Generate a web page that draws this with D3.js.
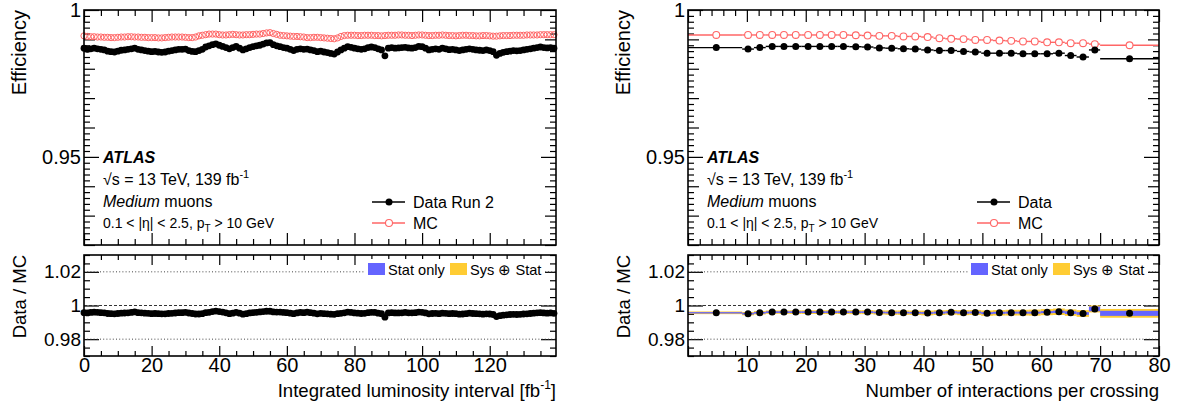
<!DOCTYPE html>
<html><head><meta charset="utf-8">
<script src="https://cdn.jsdelivr.net/npm/d3@7"></script>
<style>body{margin:0;background:#fff} svg{display:block} text{font-family:"Liberation Sans",Arial,Helvetica,sans-serif;fill:#000}</style>
</head><body><svg id="c" width="1179" height="410"></svg>
<script>
// ---------------- DATA ----------------
// Left: efficiency vs integrated luminosity interval (one point per ~1 fb^-1)
const lumiX = [0,1,2,3,4,5,6,7,8,9,10,11,12,13,14,15,16,17,18,19,20,21,22,23,24,25,26,27,28,29,30,31,32,33,34,35,36,37,38,39,40,41,42,43,44,45,46,47,48,49,50,51,52,53,54,55,56,57,58,59,60,61,62,63,64,65,66,67,68,69,70,71,72,73,74,75,76,77,78,79,80,81,82,83,84,85,86,87,88,89,90,91,92,93,94,95,96,97,98,99,100,101,102,103,104,105,106,107,108,109,110,111,112,113,114,115,116,117,118,119,120,121,122,123,124,125,126,127,128,129,130,131,132,133,134,135,136,137,138,139];
const lumiData = [
0.9870,0.9866,0.9868,0.9870,0.9868,0.9866,0.9864,0.9860,0.9858,0.9857,
0.9860,0.9863,0.9864,0.9866,0.9868,0.9870,0.9866,0.9864,0.9862,0.9860,
0.9858,0.9859,0.9857,0.9856,0.9857,0.9860,0.9862,0.9864,0.9866,0.9866,
0.9867,0.9862,0.9859,0.9858,0.9862,0.9866,0.9874,0.9878,0.9882,0.9885,
0.9880,0.9876,0.9872,0.9868,0.9872,0.9876,0.9870,0.9864,0.9868,0.9872,
0.9875,0.9878,0.9880,0.9884,0.9888,0.9889,0.9882,0.9878,0.9875,0.9872,
0.9870,0.9866,0.9862,0.9866,0.9868,0.9866,0.9867,0.9864,0.9862,0.9858,
0.9860,0.9857,0.9855,0.9852,0.9850,0.9857,0.9864,0.9870,0.9875,0.9873,
0.9870,0.9868,0.9866,0.9868,0.9872,0.9874,0.9872,0.9868,0.9864,0.9844,
0.9870,0.9872,0.9870,0.9871,0.9872,0.9873,0.9871,0.9870,0.9872,0.9876,
0.9875,0.9870,0.9864,0.9866,0.9868,0.9866,0.9870,0.9868,0.9865,0.9866,
0.9864,0.9862,0.9864,0.9866,0.9868,0.9866,0.9864,0.9863,0.9862,0.9864,
0.9862,0.9858,0.9846,0.9852,0.9856,0.9858,0.9860,0.9862,0.9861,0.9862,
0.9864,0.9866,0.9868,0.9870,0.9872,0.9874,0.9872,0.9871,0.9872,0.9870];
const lumiMC = [
0.9912,0.9910,0.9909,0.9909,0.9908,0.9908,0.9907,0.9907,0.9906,0.9906,
0.9907,0.9908,0.9908,0.9909,0.9909,0.9908,0.9908,0.9907,0.9907,0.9906,
0.9906,0.9906,0.9905,0.9905,0.9906,0.9907,0.9908,0.9908,0.9908,0.9908,
0.9907,0.9906,0.9906,0.9908,0.9912,0.9914,0.9916,0.9918,0.9918,0.9918,
0.9916,0.9915,0.9915,0.9916,0.9917,0.9916,0.9915,0.9915,0.9916,0.9916,
0.9917,0.9918,0.9918,0.9920,0.9922,0.9923,0.9920,0.9917,0.9914,0.9913,
0.9912,0.9911,0.9910,0.9910,0.9909,0.9908,0.9906,0.9906,0.9907,0.9907,
0.9906,0.9905,0.9904,0.9903,0.9902,0.9905,0.9910,0.9913,0.9914,0.9914,
0.9914,0.9913,0.9913,0.9914,0.9914,0.9914,0.9913,0.9913,0.9912,0.9913,
0.9914,0.9914,0.9914,0.9915,0.9915,0.9914,0.9914,0.9913,0.9914,0.9915,
0.9915,0.9914,0.9913,0.9913,0.9914,0.9914,0.9915,0.9914,0.9913,0.9913,
0.9912,0.9913,0.9914,0.9914,0.9913,0.9913,0.9912,0.9912,0.9913,0.9913,
0.9912,0.9911,0.9911,0.9912,0.9913,0.9913,0.9913,0.9914,0.9914,0.9914,
0.9914,0.9915,0.9915,0.9915,0.9915,0.9916,0.9916,0.9916,0.9916,0.9916];

// Right: efficiency vs number of interactions per crossing
const muX  = [4.8,10.2,12.2,14.3,16.3,18.3,20.4,22.4,24.4,26.4,28.5,30.5,32.5,34.6,36.6,38.6,40.7,42.7,44.7,46.8,48.8,50.8,52.9,54.9,56.9,58.9,61.0,63.0,65.0,67.1,69.1,75.0];
const muLo = [0,9.2,11.2,13.2,15.3,17.3,19.3,21.4,23.4,25.4,27.4,29.5,31.5,33.5,35.6,37.6,39.6,41.7,43.7,45.7,47.8,49.8,51.8,53.9,55.9,57.9,59.9,62.0,64.0,66.0,68.1,70.0];
const muHi = [9.2,11.2,13.2,15.3,17.3,19.3,21.4,23.4,25.4,27.4,29.5,31.5,33.5,35.6,37.6,39.6,41.7,43.7,45.7,47.8,49.8,51.8,53.9,55.9,57.9,59.9,62.0,64.0,66.0,68.1,70.0,80.0];
const muData = [0.9872,0.9867,0.9872,0.9876,0.9876,0.9876,0.9876,0.9876,0.9876,0.9876,0.9875,0.9874,0.9871,0.9870,0.9868,0.9867,0.9864,0.9862,0.9862,0.9859,0.9857,0.9853,0.9853,0.9853,0.9851,0.9851,0.9851,0.9853,0.9845,0.9840,0.9864,0.9834];
const muMC   = [0.9915,0.9915,0.9915,0.9915,0.9915,0.9915,0.9915,0.9915,0.9915,0.9915,0.9914,0.9913,0.9912,0.9912,0.9910,0.9910,0.9908,0.9904,0.9902,0.9901,0.9898,0.9898,0.9896,0.9895,0.9893,0.9893,0.9890,0.9890,0.9887,0.9887,0.9884,0.9880];
const muStatErr = [0.0004,0.0005,0.0005,0.0005,0.0005,0.0005,0.0005,0.0005,0.0005,0.0005,0.0005,0.0005,0.0005,0.0005,0.0005,0.0005,0.0005,0.0006,0.0006,0.0006,0.0006,0.0006,0.0006,0.0006,0.0006,0.0006,0.0006,0.0007,0.0008,0.0008,0.0014,0.0015];
const muSysErr  = [0.0008,0.0010,0.0010,0.0010,0.0010,0.0011,0.0011,0.0011,0.0011,0.0011,0.0012,0.0012,0.0012,0.0013,0.0013,0.0013,0.0014,0.0014,0.0014,0.0015,0.0015,0.0016,0.0016,0.0017,0.0017,0.0018,0.0018,0.0019,0.0019,0.0020,0.0021,0.0026];
const lumiStatErr = 0.0003, lumiSysErr = 0.0006;

// Tick labels
const effTickLabels = [0.95, 1];
const ratioTickLabels = [0.98, 1, 1.02];
const lumiTickLabels = [0,20,40,60,80,100,120];
const muTickLabels = [10,20,30,40,50,60,70,80];

// ---------------- DRAWING ----------------
(function(){
const svg = d3.select('#c');
const FONT = '"Liberation Sans",Arial,Helvetica,sans-serif';
const BLUE = '#6464ff', YELLOW = '#ffcc33', RED = '#ff6666';

const topF = {y0:10, y1:245}, ratF = {y0:255, y1:356};
const panels = [
  {x0:84, x1:556, dom:[0,139.6], major:lumiTickLabels, minorStep:5, labelsShown:lumiTickLabels},
  {x0:688, x1:1159, dom:[0,80], major:[0,10,20,30,40,50,60,70,80], minorStep:2, labelsShown:muTickLabels}
];
const yTop = d3.scaleLinear([0.92,1.0],[topF.y1, topF.y0]);
const yRat = d3.scaleLinear([0.97,1.03],[ratF.y1, ratF.y0]);

function rng(a,b,s){const r=[];for(let v=a;v<=b+1e-9;v+=s)r.push(+v.toFixed(6));return r;}

function drawTicks(g, axisGen, scale, values, size, fmt, pad, fs){
  const a = g.append('g').call(axisGen(scale).tickValues(values).tickSizeInner(size).tickSizeOuter(0).tickPadding(pad||3).tickFormat(fmt||(()=> '')));
  a.select('.domain').remove();
  a.selectAll('line').attr('stroke','#000').attr('stroke-width',1.2);
  a.selectAll('text').attr('font-family',FONT).attr('font-size',fs||20).attr('fill','#000');
  return a;
}

panels.forEach((p,pi)=>{
  const x = d3.scaleLinear(p.dom,[p.x0,p.x1]);
  p.x = x;
  const minors = rng(p.dom[0], p.dom[1], p.minorStep).filter(v=>!p.major.includes(v));
  [[topF, yTop, rng(0.92,1.0,0.002), rng(0.92,1.0,0.01), effTickLabels],
   [ratF, yRat, rng(0.97,1.03,0.005), ratioTickLabels, ratioTickLabels]].forEach(([fr, y, yMin, yMaj, yLab], k)=>{
    const gl = svg.append('g').attr('transform',`translate(${p.x0},0)`);
    const gr = svg.append('g').attr('transform',`translate(${p.x1},0)`);
    const gt = svg.append('g').attr('transform',`translate(0,${fr.y0})`);
    const gb = svg.append('g').attr('transform',`translate(0,${fr.y1})`);
    const yMinOnly = yMin.filter(v=>!yMaj.some(m=>Math.abs(m-v)<1e-6));
    drawTicks(gl, d3.axisLeft, y, yMinOnly, -6);
    drawTicks(gr, d3.axisRight, y, yMinOnly, -6);
    const majLen = k===0 ? 11 : 12;
    const yMajNoLab = yMaj.filter(v=>!yLab.some(m=>Math.abs(m-v)<1e-6));
    drawTicks(gl, d3.axisLeft, y, yMajNoLab, -majLen);
    drawTicks(gr, d3.axisRight, y, yMajNoLab, -majLen);
    drawTicks(gl, d3.axisLeft, y, yLab, -15, d=>d3.format('')(d), 3, k===0?20:19);
    drawTicks(gr, d3.axisRight, y, yLab, -15);
    drawTicks(gt, d3.axisTop, x, minors, -(k===0?6:5));
    drawTicks(gb, d3.axisBottom, x, minors, -(k===0?6:5));
    drawTicks(gt, d3.axisTop, x, p.major, -(k===0?12:10));
    drawTicks(gb, d3.axisBottom, x, p.major, -(k===0?12:10), k===1 ? (d=>p.labelsShown.includes(d)?String(d):'') : ()=>'', 2, 20);
  });

  const gGrid = svg.append('g');
  [[1.02,'1,2.2','#444'],[0.98,'1,2.2','#444'],[1.0,'3,2','#333']].forEach(([v,da,c])=>{
    gGrid.append('line').attr('x1',p.x0).attr('x2',p.x1).attr('y1',yRat(v)).attr('y2',yRat(v))
      .attr('stroke',c).attr('stroke-width',1).attr('stroke-dasharray',da);
  });
});

// ---------------- LEFT: luminosity ----------------
(function(){
  const p = panels[0], x = p.x;
  const g = svg.append('g');
  const ratio = lumiData.map((d,i)=>d/lumiMC[i]);
  g.selectAll('rect.sys').data(lumiX).join('rect').attr('class','sys')
    .attr('x',(d,i)=>x(d)-1.7).attr('width',3.4)
    .attr('y',(d,i)=>yRat(ratio[i]+lumiSysErr)).attr('height',(d,i)=>yRat(ratio[i]-lumiSysErr)-yRat(ratio[i]+lumiSysErr))
    .attr('fill',YELLOW);
  g.selectAll('rect.stat').data(lumiX).join('rect').attr('class','stat')
    .attr('x',(d,i)=>x(d)-1.7).attr('width',3.4)
    .attr('y',(d,i)=>yRat(ratio[i]+lumiStatErr)).attr('height',(d,i)=>yRat(ratio[i]-lumiStatErr)-yRat(ratio[i]+lumiStatErr))
    .attr('fill',BLUE);
  g.selectAll('circle.mc').data(lumiX).join('circle').attr('class','mc')
    .attr('cx',d=>x(d)).attr('cy',(d,i)=>yTop(lumiMC[i])).attr('r',3.1)
    .attr('fill','none').attr('stroke',RED).attr('stroke-width',1);
  g.selectAll('circle.dt').data(lumiX).join('circle').attr('class','dt')
    .attr('cx',d=>x(d)).attr('cy',(d,i)=>yTop(lumiData[i])).attr('r',3.4).attr('fill','#000');
  g.selectAll('circle.rt').data(lumiX).join('circle').attr('class','rt')
    .attr('cx',d=>x(d)).attr('cy',(d,i)=>yRat(ratio[i])).attr('r',3.4).attr('fill','#000');
})();

// ---------------- RIGHT: mu ----------------
(function(){
  const p = panels[1], x = p.x;
  const g = svg.append('g');
  const ratio = muData.map((d,i)=>d/muMC[i]);
  g.selectAll('rect.sys').data(muX).join('rect').attr('class','sys')
    .attr('x',(d,i)=>x(muLo[i])).attr('width',(d,i)=>x(muHi[i])-x(muLo[i]))
    .attr('y',(d,i)=>yRat(ratio[i]+muSysErr[i])).attr('height',(d,i)=>yRat(ratio[i]-muSysErr[i])-yRat(ratio[i]+muSysErr[i]))
    .attr('fill',YELLOW);
  g.selectAll('rect.stat').data(muX).join('rect').attr('class','stat')
    .attr('x',(d,i)=>x(muLo[i])).attr('width',(d,i)=>x(muHi[i])-x(muLo[i]))
    .attr('y',(d,i)=>yRat(ratio[i]+muStatErr[i])).attr('height',(d,i)=>yRat(ratio[i]-muStatErr[i])-yRat(ratio[i]+muStatErr[i]))
    .attr('fill',BLUE);
  g.selectAll('line.mc').data(muX).join('line').attr('class','mc')
    .attr('x1',(d,i)=>x(muLo[i])).attr('x2',(d,i)=>x(muHi[i]))
    .attr('y1',(d,i)=>yTop(muMC[i])).attr('y2',(d,i)=>yTop(muMC[i]))
    .attr('stroke',RED).attr('stroke-width',1.4);
  g.selectAll('circle.mc').data(muX).join('circle').attr('class','mc')
    .attr('cx',d=>x(d)).attr('cy',(d,i)=>yTop(muMC[i])).attr('r',3.4)
    .attr('fill','#fff').attr('stroke',RED).attr('stroke-width',1.1);
  g.selectAll('line.dt').data(muX).join('line').attr('class','dt')
    .attr('x1',(d,i)=>x(muLo[i])).attr('x2',(d,i)=>x(muHi[i]))
    .attr('y1',(d,i)=>yTop(muData[i])).attr('y2',(d,i)=>yTop(muData[i]))
    .attr('stroke','#000').attr('stroke-width',1.4);
  g.selectAll('circle.dt').data(muX).join('circle').attr('class','dt')
    .attr('cx',d=>x(d)).attr('cy',(d,i)=>yTop(muData[i])).attr('r',3.5).attr('fill','#000');
  g.selectAll('circle.rt').data(muX).join('circle').attr('class','rt')
    .attr('cx',d=>x(d)).attr('cy',(d,i)=>yRat(ratio[i])).attr('r',3.5).attr('fill','#000');
})();

// ---------------- FRAMES, LABELS, LEGENDS ----------------
panels.forEach((p,pi)=>{
  const lx = pi===0 ? 365 : 968;
  const lg = svg.append('g');
  lg.append('rect').attr('x',lx).attr('y',259).attr('width',180).attr('height',20).attr('fill','#fff');
  lg.append('rect').attr('x',lx+3).attr('y',263).attr('width',17).attr('height',12).attr('fill',BLUE);
  lg.append('text').attr('x',lx+23).attr('y',275).attr('font-size',14.6).text('Stat only');
  lg.append('rect').attr('x',lx+85).attr('y',263).attr('width',17).attr('height',12).attr('fill',YELLOW);
  lg.append('text').attr('x',lx+105).attr('y',275).attr('font-size',14.6).text('Sys \u2295 Stat');

  [topF, ratF].forEach(fr=>{
    svg.append('rect').attr('x',p.x0).attr('y',fr.y0).attr('width',p.x1-p.x0).attr('height',fr.y1-fr.y0)
      .attr('fill','none').attr('stroke','#000').attr('stroke-width',1.6);
  });

  const tx = p.x0 + 19;
  const t = svg.append('g');
  t.append('text').attr('x',tx).attr('y',163).attr('font-size',16).attr('font-weight','bold').attr('font-style','italic').text('ATLAS');
  const s = t.append('text').attr('x',tx).attr('y',185).attr('font-size',16);
  s.append('tspan').text('\u221As = 13 TeV, 139 fb');
  s.append('tspan').attr('dy',-7).attr('font-size',11).text('-1');
  const m = t.append('text').attr('x',tx).attr('y',207).attr('font-size',16);
  m.append('tspan').attr('font-style','italic').text('Medium');
  m.append('tspan').text(' muons');
  const e = t.append('text').attr('x',tx).attr('y',228).attr('font-size',14);
  e.append('tspan').text('0.1 < |\u03B7| < 2.5, p');
  e.append('tspan').attr('dy',4).attr('font-size',10).text('T');
  e.append('tspan').attr('dy',-4).text(' > 10 GeV');

  const lgx = pi===0 ? 372 : 977;
  const names = pi===0 ? ['Data Run 2','MC'] : ['Data','MC'];
  const leg = svg.append('g');
  [[202,'#000',true],[223,RED,false]].forEach(([y,c,filled],k)=>{
    leg.append('line').attr('x1',lgx).attr('x2',lgx+33).attr('y1',y).attr('y2',y).attr('stroke',c).attr('stroke-width',1.4);
    leg.append('circle').attr('cx',lgx+17).attr('cy',y).attr('r',3.5).attr('fill',filled?'#000':'#fff').attr('stroke',c).attr('stroke-width',filled?0:1.1);
    leg.append('text').attr('x',lgx+41).attr('y',y+6).attr('font-size',16).text(names[k]);
  });

  const yt = p.x0 - 58;
  svg.append('text').attr('transform',`translate(${yt},10) rotate(-90)`).attr('text-anchor','end').attr('font-size',20).text('Efficiency');
  svg.append('text').attr('transform',`translate(${yt},255) rotate(-90)`).attr('text-anchor','end').attr('font-size',18.5).text('Data / MC');
  const xt = svg.append('text').attr('x',p.x1).attr('y',397).attr('text-anchor','end').attr('font-size',18.6);
  if(pi===0){
    xt.append('tspan').text('Integrated luminosity interval [fb');
    xt.append('tspan').attr('dy',-8).attr('font-size',12).text('-1');
    xt.append('tspan').attr('dy',8).text(']');
  } else {
    xt.text('Number of interactions per crossing');
  }
});
})();
</script>
</body></html>
